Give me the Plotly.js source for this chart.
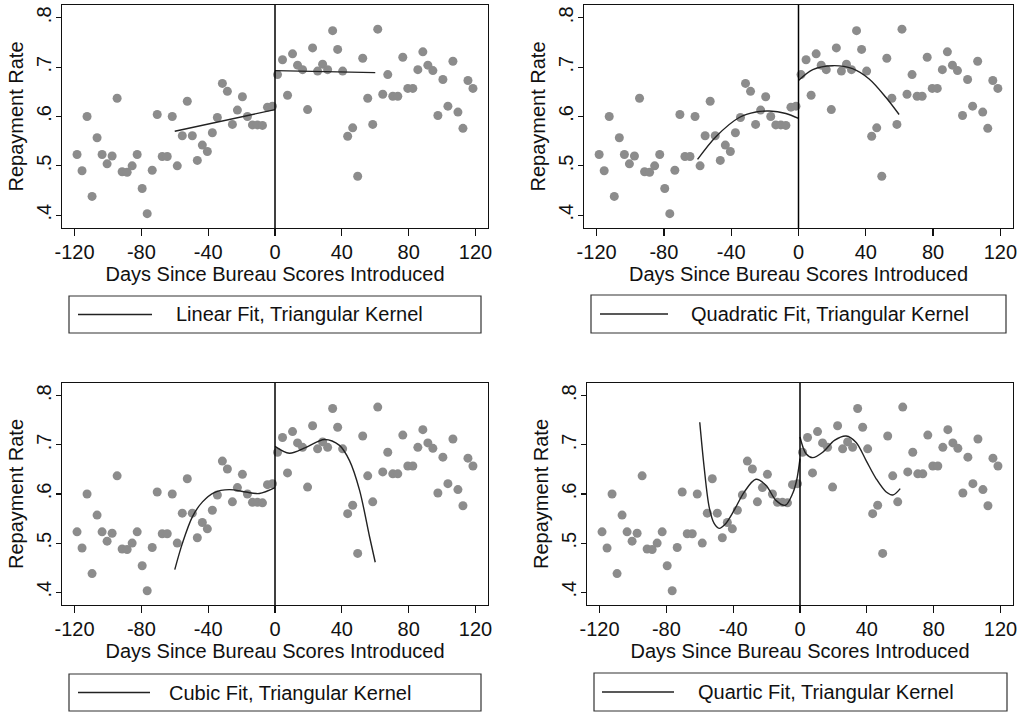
<!DOCTYPE html>
<html>
<head>
<meta charset="utf-8">
<script src="https://cdn.plot.ly/plotly-3.0.1.min.js"></script>
<style>
  html, body { margin: 0; padding: 0; background: #ffffff; }
  #chart { width: 1021px; height: 713px; }
</style>
</head>
<body>
<div id="chart"></div>
<script>
// ---------------- data ----------------
const preDays = [-118.5, -115.5, -112.5, -109.5, -106.5, -103.5, -100.5, -97.5, -94.5, -91.5,
                 -88.5, -85.5, -82.5, -79.5, -76.5, -73.5, -70.5, -67.5, -64.5, -61.5,
                 -58.5, -55.5, -52.5, -49.5, -46.5, -43.5, -40.5, -37.5, -34.5, -31.5,
                 -28.5, -25.5, -22.5, -19.5, -16.5, -13.5, -10.5, -7.5, -4.5, -1.5];
const preRates = [0.523, 0.490, 0.600, 0.438, 0.557, 0.523, 0.504, 0.520, 0.637, 0.488,
                  0.487, 0.500, 0.523, 0.454, 0.403, 0.491, 0.604, 0.519, 0.519, 0.600,
                  0.500, 0.561, 0.631, 0.561, 0.511, 0.542, 0.529, 0.567, 0.598, 0.667,
                  0.651, 0.584, 0.613, 0.640, 0.600, 0.583, 0.583, 0.582, 0.619, 0.621];
const postDays = [1.5, 4.5, 7.5, 10.5, 13.5, 16.5, 19.5, 22.5, 25.5, 28.5,
                  31.5, 34.5, 37.5, 40.5, 43.5, 46.5, 49.5, 52.5, 55.5, 58.5,
                  61.5, 64.5, 67.5, 70.5, 73.5, 76.5, 79.5, 82.5, 85.5, 88.5,
                  91.5, 94.5, 97.5, 100.5, 103.5, 106.5, 109.5, 112.5, 115.5, 118.5];
const postRates = [0.685, 0.715, 0.643, 0.727, 0.704, 0.695, 0.614, 0.739, 0.692, 0.706,
                   0.695, 0.774, 0.736, 0.692, 0.560, 0.577, 0.479, 0.718, 0.637, 0.584,
                   0.777, 0.645, 0.685, 0.641, 0.641, 0.720, 0.657, 0.657, 0.695, 0.731,
                   0.704, 0.693, 0.602, 0.675, 0.621, 0.712, 0.609, 0.576, 0.673, 0.657];

// fitted curves
const linearPreX  = [-60, 0];
const linearPreY  = [0.570, 0.614];
const linearPostX = [0, 60];
const linearPostY = [0.693, 0.689];

const quadPreX  = [-60, -49.1, -35.2, -25.3, -17.4, -7.5, 0];
const quadPreY  = [0.513, 0.559, 0.598, 0.609, 0.611, 0.606, 0.596];
const quadPostX = [0, 8.5, 20.3, 32.1, 42, 51.9, 59.8];
const quadPostY = [0.673, 0.695, 0.703, 0.697, 0.676, 0.639, 0.604];

const cubicPreX  = [-60, -55.4, -49.4, -43.4, -36.4, -27.4, -17.4, -9.4, 0];
const cubicPreY  = [0.446, 0.500, 0.554, 0.584, 0.603, 0.609, 0.604, 0.601, 0.613];
const cubicPostX = [0, 8.6, 18.6, 29.6, 38.6, 44.6, 50.6, 56.6, 60];
const cubicPostY = [0.697, 0.683, 0.695, 0.711, 0.699, 0.668, 0.608, 0.513, 0.461];

const quartPreX  = [-60, -57.4, -54.4, -51.4, -48.4, -44.4, -39.4, -33.4, -26.4, -20.4, -14.4, -8.8, -4.4, -2, 0];
const quartPreY  = [0.746, 0.655, 0.574, 0.540, 0.530, 0.540, 0.567, 0.604, 0.630, 0.618, 0.587, 0.577, 0.601, 0.628, 0.672];
const quartPostX = [0, 3.6, 7.6, 13.6, 20.6, 27.6, 33.6, 39.6, 45.6, 51.6, 55.6, 60];
const quartPostY = [0.716, 0.682, 0.674, 0.685, 0.709, 0.718, 0.705, 0.668, 0.631, 0.604, 0.598, 0.611];

const fitLabels = ['Linear Fit, Triangular Kernel', 'Quadratic Fit, Triangular Kernel',
                   'Cubic Fit, Triangular Kernel', 'Quartic Fit, Triangular Kernel'];

const dayTicks = [-120, -80, -40, 0, 40, 80, 120];
const dayTickLabels = ['-120', '-80', '-40', '0', '40', '80', '120'];
const rateTicks = [0.4, 0.5, 0.6, 0.7, 0.8];
const rateTickLabels = ['.4', '.5', '.6', '.7', '.8'];

const xTitle = 'Days Since Bureau Scores Introduced';
const yTitle = 'Repayment Rate';
const cutoffDay = 0;

// ---------------- layout helpers ----------------
const W = 1021, H = 713;
const fx = p => p / W;
const fy = p => 1 - p / H;

const FONT = 'Liberation Sans, Arial, Helvetica, sans-serif';
const INK = '#111111';
const DOT = '#8c8c8c';

// panel boxes in pixels: [left, top, right, bottom]
const panels = [
  { box: [62, 5, 488, 228],   legend: { box: [69, 296, 481, 333],  line: [78, 152],  textX: 174 } },
  { box: [584, 5, 1013, 228], legend: { box: [591, 295, 1006, 333], line: [600, 668], textX: 689 } },
  { box: [62, 383, 488, 605], legend: { box: [69, 674, 481, 711],  line: [78, 150],  textX: 167 } },
  { box: [587, 383, 1013, 605], legend: { box: [594, 673, 1007, 711], line: [602, 674], textX: 696 } }
];

const fits = [
  [linearPreX, linearPreY, linearPostX, linearPostY],
  [quadPreX, quadPreY, quadPostX, quadPostY],
  [cubicPreX, cubicPreY, cubicPostX, cubicPostY],
  [quartPreX, quartPreY, quartPostX, quartPostY]
];

const allDays = preDays.concat(postDays);
const allRates = preRates.concat(postRates);

const traces = [];
const layout = {
  width: W, height: H,
  margin: { l: 0, r: 0, t: 0, b: 0 },
  paper_bgcolor: '#ffffff',
  plot_bgcolor: '#ffffff',
  showlegend: false,
  font: { family: FONT, size: 20, color: INK },
  shapes: [],
  annotations: []
};

panels.forEach((p, i) => {
  const n = i + 1;
  const xa = 'x' + (n === 1 ? '' : n);
  const ya = 'y' + (n === 1 ? '' : n);
  const xKey = 'xaxis' + (n === 1 ? '' : n);
  const yKey = 'yaxis' + (n === 1 ? '' : n);

  traces.push({
    type: 'scatter', mode: 'markers', x: allDays, y: allRates,
    xaxis: xa, yaxis: ya, hoverinfo: 'x+y',
    marker: { color: DOT, size: 9, line: { width: 0 } }
  });
  const f = fits[i];
  [[f[0], f[1]], [f[2], f[3]]].forEach(seg => {
    traces.push({
      type: 'scatter', mode: 'lines', x: seg[0], y: seg[1],
      xaxis: xa, yaxis: ya, name: fitLabels[i],
      line: { color: '#222222', width: 1.4, shape: 'spline', smoothing: 0.9 }
    });
  });

  layout[xKey] = {
    domain: [fx(p.box[0]), fx(p.box[2])],
    anchor: ya,
    range: [-127.5, 127.5],
    tickmode: 'array', tickvals: dayTicks, ticktext: dayTickLabels,
    ticks: 'outside', ticklen: 7, tickwidth: 1.2, tickcolor: INK,
    showline: true, mirror: true, linecolor: INK, linewidth: 1.4,
    showgrid: false, zeroline: false,
    ticklabelstandoff: -1,
    tickfont: { family: FONT, size: 20, color: INK },
    title: { text: xTitle, font: { family: FONT, size: 20, color: INK }, standoff: 3 },
    automargin: false, fixedrange: true
  };
  layout[yKey] = {
    domain: [fy(p.box[3]), fy(p.box[1])],
    anchor: xa,
    range: [0.374, 0.826],
    tickmode: 'array', tickvals: rateTicks, ticktext: rateTickLabels,
    tickangle: -90,
    ticks: 'outside', ticklen: 5, tickwidth: 1.2, tickcolor: INK,
    showline: true, mirror: true, linecolor: INK, linewidth: 1.4,
    showgrid: false, zeroline: false,
    ticklabelstandoff: -3,
    tickfont: { family: FONT, size: 20, color: INK },
    title: { text: yTitle, font: { family: FONT, size: 20, color: INK }, standoff: 3 },
    automargin: false, fixedrange: true
  };

  // cutoff line
  layout.shapes.push({
    type: 'line', xref: xa, yref: ya + ' domain',
    x0: cutoffDay, x1: cutoffDay, y0: 0, y1: 1,
    line: { color: '#000000', width: 1.5 }
  });

  // legend box
  const L = p.legend;
  layout.shapes.push({
    type: 'rect', xref: 'paper', yref: 'paper',
    x0: fx(L.box[0]), x1: fx(L.box[2]), y0: fy(L.box[3]), y1: fy(L.box[1]),
    line: { color: '#333333', width: 1.2 }, fillcolor: 'rgba(0,0,0,0)'
  });
  const midY = (L.box[1] + L.box[3]) / 2;
  layout.shapes.push({
    type: 'line', xref: 'paper', yref: 'paper',
    x0: fx(L.line[0]), x1: fx(L.line[1]), y0: fy(midY), y1: fy(midY),
    line: { color: '#222222', width: 1.4 }
  });
  layout.annotations.push({
    xref: 'paper', yref: 'paper', x: fx(L.textX), y: fy(midY),
    xanchor: 'left', yanchor: 'middle', showarrow: false,
    text: fitLabels[i], font: { family: FONT, size: 20, color: INK }
  });
});

Plotly.newPlot('chart', traces, layout, { displayModeBar: false, staticPlot: true });
</script>
</body>
</html>
